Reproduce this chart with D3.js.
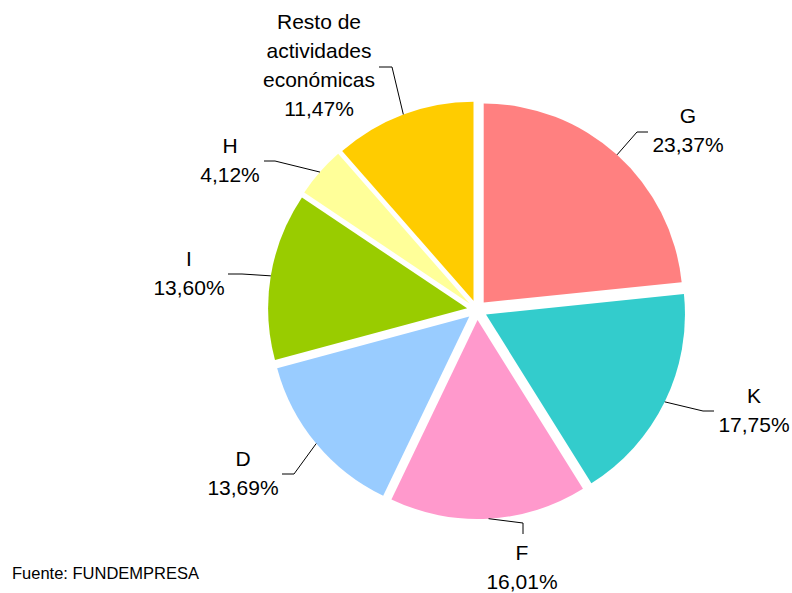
<!DOCTYPE html>
<meta charset="utf-8">
<head>
<style>
body { margin: 0; background: #fff; }
text { font-family: Arial, "Liberation Sans", sans-serif; fill: #000; }
.leader { fill: none; stroke: #000; stroke-width: 1; }
</style>
</head>
<body>
<svg id="pie" width="792" height="593"></svg>
<script src="https://cdn.jsdelivr.net/npm/d3@7"></script>
<script>

// data, clockwise from 12 o'clock
var categories = ["G", "K", "F", "D", "I", "H", "Resto de actividades económicas"];
var shares = [23.37, 17.75, 16.01, 13.69, 13.60, 4.12, 11.47];
var colors = ["#FF8080", "#33CCCC", "#FF99CC", "#99CCFF", "#99CC00", "#FFFF99", "#FFCC00"];

// label placement (text centre, first baseline, leader elbow)
var labelLayout = [
  {x: 688, y: 123, ex: 637, ey: 132, tx: 648},
  {x: 754, y: 403, ex: 703, ey: 411, tx: 714},
  {x: 522, y: 560, ex: 523, ey: 523, ty: 534},
  {x: 243, y: 466, ex: 294, ey: 474, tx: 282},
  {x: 189, y: 266, ex: 242, ey: 274, tx: 228},
  {x: 230, y: 153, ex: 275, ey: 161, tx: 264},
  {x: 319, y: 29, ex: 392, ey: 67, tx: 379}
];
var labelLines = [["G"], ["K"], ["F"], ["D"], ["I"], ["H"], ["Resto de", "actividades", "económicas"]];

var svg = d3.select("#pie"),
    cx = 477, cy = 310,
    radius = 199,
    explode = 10,
    lineH = 29;

var locale = d3.formatLocale({decimal: ",", thousands: ".", grouping: [3], currency: ["", ""]});
var fmt = locale.format(".2f");

var data = categories.map(function(c, i) { return {name: c, value: shares[i], color: colors[i], i: i}; });

var pie = d3.pie()
    .sort(null)
    .value(function(d) { return d.value; });

var arc = d3.arc()
    .innerRadius(0)
    .outerRadius(radius);

var arcs = pie(data);

function mid(d) { return (d.startAngle + d.endAngle) / 2; }

var g = svg.append("g").attr("transform", "translate(" + cx + "," + cy + ")");

g.selectAll(".slice")
  .data(arcs)
  .enter().append("path")
    .attr("class", "slice")
    .attr("fill", function(d) { return d.data.color; })
    .attr("transform", function(d) {
      var a = mid(d);
      return "translate(" + (explode * Math.sin(a)) + "," + (-explode * Math.cos(a)) + ")";
    })
    .attr("d", arc);

// leader lines
svg.selectAll(".leader")
  .data(arcs)
  .enter().append("polyline")
    .attr("class", "leader")
    .attr("points", function(d) {
      var a = mid(d), L = labelLayout[d.data.i];
      var sx = cx + (explode + radius) * Math.sin(a),
          sy = cy - (explode + radius) * Math.cos(a);
      var end = L.tx != null ? [L.tx, L.ey] : [L.ex, L.ty];
      return [[sx, sy], [L.ex, L.ey], end].map(function(p) { return p.join(","); }).join(" ");
    });

// labels
var labels = svg.selectAll(".label")
  .data(arcs)
  .enter().append("text")
    .attr("class", "label")
    .attr("text-anchor", "middle")
    .style("font-size", "21px");

labels.each(function(d) {
  var L = labelLayout[d.data.i],
      lines = labelLines[d.data.i].concat([fmt(d.data.value) + "%"]),
      t = d3.select(this);
  lines.forEach(function(s, k) {
    t.append("tspan")
      .attr("x", L.x)
      .attr("y", L.y + k * lineH)
      .text(s);
  });
});

svg.append("text")
    .attr("x", 12)
    .attr("y", 579)
    .style("font-size", "16.5px")
    .text("Fuente: FUNDEMPRESA");

</script>
</body>
</html>
